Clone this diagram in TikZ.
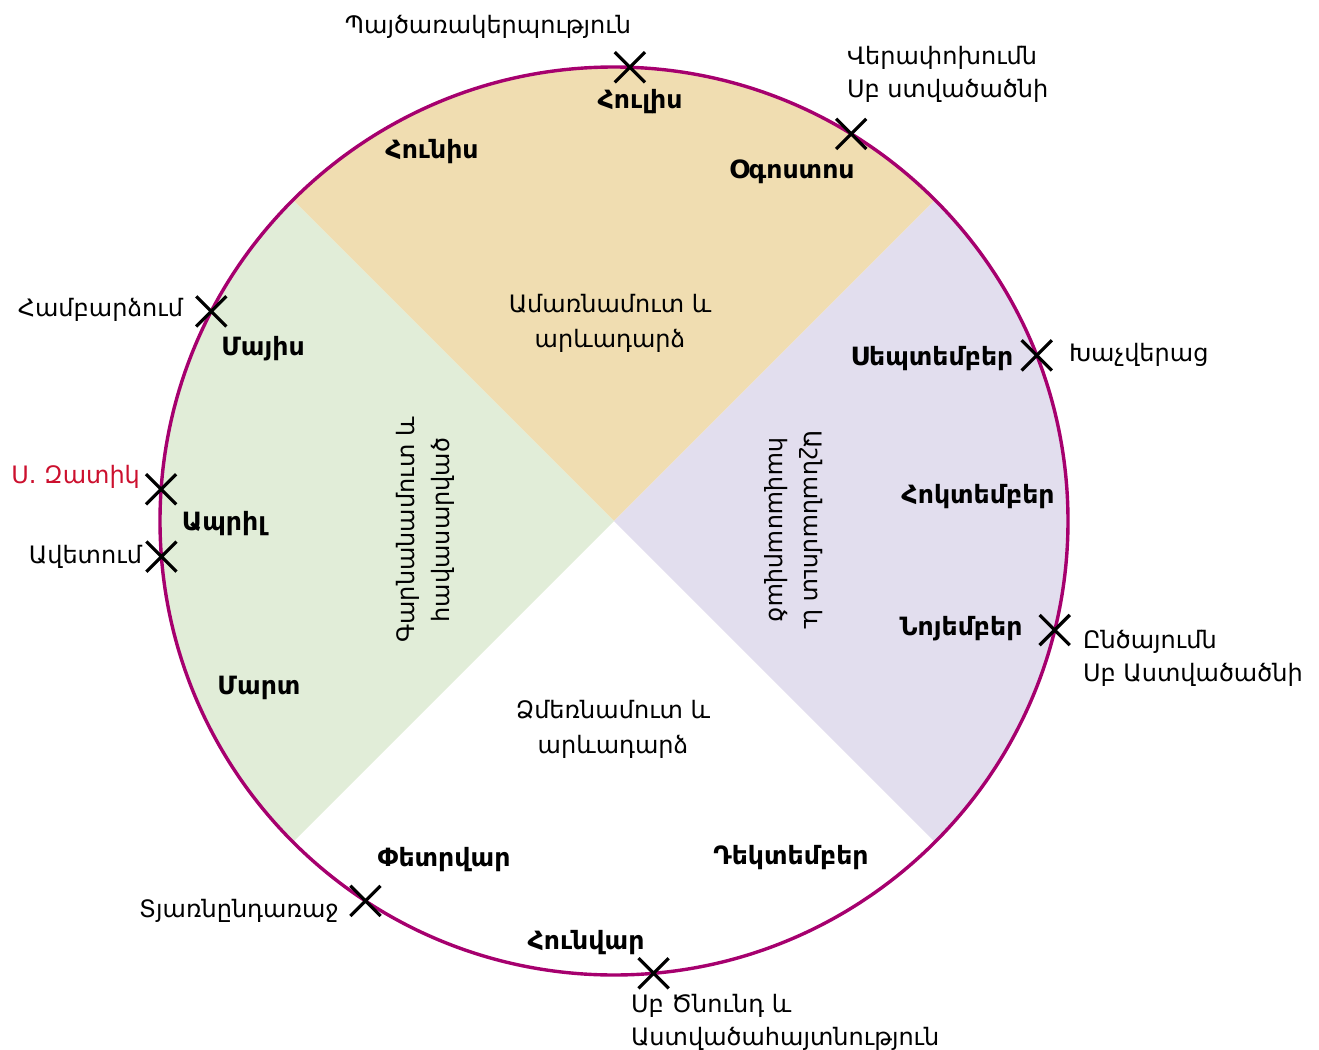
\documentclass[tikz,border=0pt]{standalone}
\usepackage{fontspec}
\setmainfont{DejaVu Sans}
\usetikzlibrary{shapes}
\definecolor{rimcol}{RGB}{166,0,110}
\definecolor{summercol}{RGB}{240,221,177}
\definecolor{springcol}{RGB}{225,237,216}
\definecolor{autumncol}{RGB}{226,222,238}
\definecolor{eastercol}{RGB}{204,16,46}

\begin{document}
\begin{tikzpicture}[x=0.5pt,y=-0.5pt,
  month/.style={font=\fontsize{12.6}{14}\selectfont\bfseries},
  feast/.style={draw,cross out,line width=1.6pt,minimum size=13.5pt,inner sep=0pt},
  fname/.style={font=\fontsize{12}{16.5}\selectfont,align=left},
  season/.style={font=\fontsize{12}{17.5}\selectfont,align=center}]
\useasboundingbox (0,0) rectangle (1319,1050);
\coordinate (C) at (614,521);

% to fill the seasons
\fill[summercol] (C) -- ++(45:227pt) arc[start angle=45,end angle=135,radius=227pt] -- cycle;
\fill[springcol] (C) -- ++(135:227pt) arc[start angle=135,end angle=225,radius=227pt] -- cycle;
\fill[autumncol] (C) -- ++(-45:227pt) arc[start angle=-45,end angle=45,radius=227pt] -- cycle;

% to draw the year circle
\draw[rimcol,line width=1.7pt] (C) circle[radius=227pt];

% to draw feast marks
\node[feast] (transf) at ([shift={(88:227pt)}]C) {};
\node[feast] (assum) at ([shift={(58.5:227pt)}]C) {};
\node[feast] (ascen) at ([shift={(152.5:227pt)}]C) {};
\node[feast] (cross) at ([shift={(21.4:227pt)}]C) {};
\node[feast] (easter) at ([shift={(176:227pt)}]C) {};
\node[feast] (annun) at ([shift={(184.5:227pt)}]C) {};
\node[feast] (present) at ([shift={(-13.9:227pt)}]C) {};
\node[feast] (candle) at ([shift={(236.8:227pt)}]C) {};
\node[feast] (nativ) at ([shift={(-85:227pt)}]C) {};

% to write seasons
\node[season] (summer) at (610,323) {Ամառնամուտ և\\արևադարձ};
\node[season] (winter) at (613,729) {Ձմեռնամուտ և\\արևադարձ};
\node[season,rotate=90] (spring) at (425,530) {Գարնանամուտ և\\հավասարված};
\node[season,rotate=-90] (autumn) at (794,530) {Աշնանամուտ և\\հավասարված};

% to write months
\node[month] (jun) at (432,152) {Հունիս};
\node[month] (jul) at (640,102) {Հուլիս};
\node[month] (aug) at (792,172) {Օգոստոս};
\node[month] (may) at (263,349) {Մայիս};
\node[month] (apr) at (224,524) {Ապրիլ};
\node[month] (mar) at (259,688) {Մարտ};
\node[month] (sep) at (932,359) {Սեպտեմբեր};
\node[month] (oct) at (978,497) {Հոկտեմբեր};
\node[month] (nov) at (961,629) {Նոյեմբեր};
\node[month] (feb) at (444,860) {Փետրվար};
\node[month] (dec) at (791,858) {Դեկտեմբեր};
\node[month] (jan) at (586,943) {Հունվար};

% to write feasts
\node[fname] (transfname) at (488,27) {Պայծառակերպություն};
\node[fname,anchor=west] (assumname) at (840,74) {Վերափոխումն\\Սբ ստվածածնի};
\node[fname,anchor=east] (ascenname) at (190,310) {Համբարձում};
\node[fname,anchor=west] (crossname) at (1062,355) {Խաչվերաց};
\node[fname,anchor=east,text=eastercol] (eastername) at (147,477) {Ս. Զատիկ};
\node[fname,anchor=east] (annunname) at (149,557) {Ավետում};
\node[fname,anchor=west] (presentname) at (1076,658) {Ընծայումն\\Սբ Աստվածածնի};
\node[fname,anchor=east] (candlename) at (346,911) {Տյառնընդառաջ};
\node[fname,anchor=west] (nativname) at (624,1022) {Սբ Ծնունդ և\\Աստվածահայտնություն};
\end{tikzpicture}
\end{document}
